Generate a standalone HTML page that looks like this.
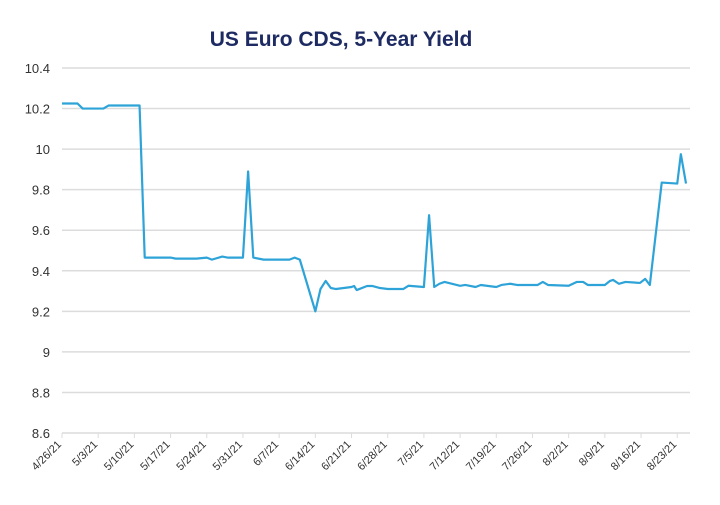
<!DOCTYPE html>
<html><head><meta charset="utf-8"><style>
body{margin:0;background:#fff;width:720px;height:500px;overflow:hidden;font-family:"Liberation Sans",sans-serif}
</style></head><body>
<svg id="chart" width="720" height="500" xmlns="http://www.w3.org/2000/svg">
<text x="341" y="46" text-anchor="middle" font-size="21" font-weight="bold" fill="#1e2b62">US Euro CDS, 5-Year Yield</text>
<g id="grid"></g><g id="yt"></g><g id="xt"></g><g id="series"></g>
</svg>
<script>
const yTicks=[8.6,8.8,9,9.2,9.4,9.6,9.8,10,10.2,10.4];
const xLabels=["4/26/21","5/3/21","5/10/21","5/17/21","5/24/21","5/31/21","6/7/21","6/14/21","6/21/21","6/28/21","7/5/21","7/12/21","7/19/21","7/26/21","8/2/21","8/9/21","8/16/21","8/23/21"];
const days=[0,3,4,8,9,15,16,21,22,26,28,29,31,32,35,36,37,39,44,45,46,49,50,51,52,53,56,56.5,57,59,60,61.5,63,66,67,70,71,72,73,74,77,78,80,81,84,85,86.7,88,92,93,94,98,99.6,100.8,101.7,105,106,106.6,107.7,109,111.8,112.8,113.7,116,119,119.7,120.7];
const values=[10.225,10.225,10.2,10.2,10.215,10.215,9.465,9.465,9.46,9.46,9.465,9.455,9.47,9.465,9.465,9.89,9.465,9.455,9.455,9.465,9.455,9.2,9.31,9.35,9.315,9.31,9.32,9.325,9.305,9.325,9.325,9.315,9.31,9.31,9.326,9.32,9.674,9.32,9.336,9.345,9.326,9.33,9.32,9.33,9.32,9.33,9.336,9.33,9.33,9.345,9.33,9.326,9.345,9.345,9.33,9.33,9.35,9.355,9.336,9.345,9.34,9.36,9.33,9.835,9.83,9.975,9.83];
const X0=62,X1=690,PXD=5.17,Y0=433,Y1=68;
const x=d=>X0+d*PXD;
const y=v=>Y0-(v-8.6)/(10.4-8.6)*(Y0-Y1);
const NS="http://www.w3.org/2000/svg";
function mk(t,p,a){const e=document.createElementNS(NS,t);for(const k in a)e.setAttribute(k,a[k]);p.appendChild(e);return e;}
const grid=document.getElementById('grid'),yt=document.getElementById('yt'),xt=document.getElementById('xt'),ser=document.getElementById('series');
yTicks.forEach(v=>{
 const l=mk('line',grid,{x1:X0,x2:X1,y1:y(v),y2:y(v),stroke:'#dcdcdc','stroke-width':1.5});
 
 
 const t=mk('text',yt,{x:50,y:y(v)+5,'text-anchor':'end','font-size':13,fill:'#333'});
 t.textContent=String(v);
 
 
});
xLabels.forEach((s,i)=>{
 const px=x(i*7);
 const tk=mk('line',xt,{x1:px,x2:px,y1:Y0,y2:Y0+5,stroke:'#dcdcdc'});
 
 
 const t=mk('text',xt,{x:px,y:Y0+12,'text-anchor':'end','font-size':11,fill:'#333',transform:`rotate(-45 ${px} ${Y0+12})`});
 t.textContent=s;
 
 
});
const p=mk('polyline',ser,{points:days.map((d,i)=>x(d)+','+y(values[i])).join(' '),fill:'none',stroke:'#2ea3d8','stroke-width':2.2,'stroke-linejoin':'round'});


</script>
</body></html>
